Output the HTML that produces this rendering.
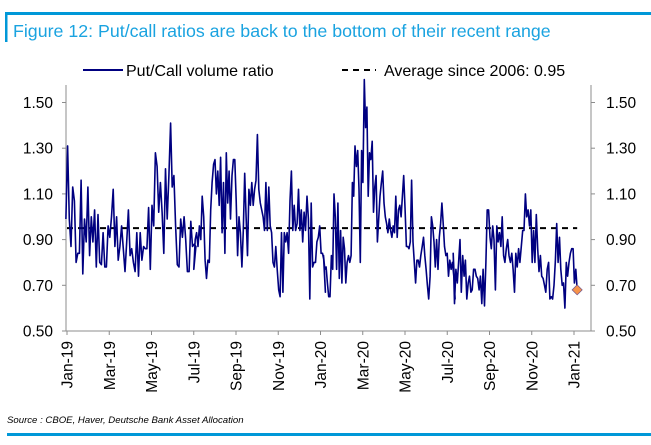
<!DOCTYPE html>
<html><head><meta charset="utf-8"><style>
html,body{margin:0;padding:0;background:#fff;width:651px;height:445px;overflow:hidden;font-family:"Liberation Sans",sans-serif}
</style></head><body>
<svg id="chart" width="651" height="445" xmlns="http://www.w3.org/2000/svg" font-family="Liberation Sans, sans-serif">
<rect x="5" y="12" width="646" height="3" fill="#0098d8"/>
<rect x="5" y="12" width="2.5" height="30" fill="#0098d8"/>
<text x="13" y="37" font-size="17.8" fill="#1aa3e0">Figure 12: Put/call ratios are back to the bottom of their recent range</text>
<g>
<line x1="83" y1="70" x2="123" y2="70" stroke="#000080" stroke-width="2"/>
<text x="126" y="76" font-size="16" fill="#000">Put/Call volume ratio</text>
<line x1="342" y1="70" x2="376" y2="70" stroke="#000" stroke-width="2" stroke-dasharray="6,5"/>
<text x="384" y="76" font-size="16" fill="#000">Average since 2006: 0.95</text>
</g>
<g id="axes"></g>
<g id="marks"></g>
<text x="7" y="423" font-size="9.6" font-style="italic" fill="#000">Source : CBOE, Haver, Deutsche Bank Asset Allocation</text>
<rect x="7" y="433" width="644" height="3" fill="#0098d8"/>
</svg>
<script>
const yTicks = [0.50, 0.70, 0.90, 1.10, 1.30, 1.50];
const xTickLabels = ["Jan-19","Mar-19","May-19","Jul-19","Sep-19","Nov-19","Jan-20","Mar-20","May-20","Jul-20","Sep-20","Nov-20","Jan-21"];
const xTickMonths = [0,2,4,6,8,10,12,14,16,18,20,22,24];
const averageValue = 0.95;
const lastValue = 0.68;
const lastMonth = 24.15;
const segStartMonth = [-0.05, 6.0, 12.14, 18.28];
const segEndMonth = [6.1, 12.23, 18.37, 24.15];
const seg1 = [0.99,1.31,0.99,0.87,1.13,1.07,0.80,0.84,0.84,1.16,0.75,0.99,0.89,1.13,0.83,1.00,0.89,1.03,0.78,1.01,0.80,0.79,0.93,0.78,0.78,0.96,0.91,1.00,1.12,0.87,1.00,0.81,0.87,0.96,0.86,0.76,0.89,1.03,0.83,0.86,0.80,0.76,0.93,0.74,0.93,0.81,0.87,0.86,0.86,1.04,0.77,1.05,0.96,1.28,1.22,1.02,1.15,1.02,0.84,1.21,0.99,1.18,1.41,1.13,1.18,0.96,0.79,0.78,0.99,0.91,1.00,0.90,0.76,0.76,0.98,0.87,0.88,0.87];
const seg2 = [0.77,0.90,0.93,0.87,0.96,0.90,1.09,1.00,0.81,0.73,0.81,0.80,1.03,1.15,1.23,1.25,1.10,1.20,1.05,1.26,0.93,1.15,0.84,1.28,1.06,1.20,0.99,1.18,1.25,1.25,1.07,0.83,1.00,0.93,0.78,0.94,1.19,1.00,0.83,1.12,1.05,1.15,1.05,1.12,1.16,1.36,1.12,1.06,1.03,1.00,0.94,1.15,0.94,1.13,0.96,0.93,0.80,0.78,0.87,0.77,0.68,0.65,0.93,0.67,0.93,0.89,0.93,0.84,1.07,1.20,0.94,1.05,0.94,0.97,1.12,0.94,1.03,0.89,1.02,0.94,1.09,0.99,0.64,1.06,0.78,0.80,0.80,0.89,0.91,0.96,0.84,0.84,0.81,0.67];
const seg3 = [0.83,0.77,0.78,0.71,0.65,0.65,0.83,0.77,1.10,1.00,0.77,1.06,0.73,0.94,0.71,0.91,0.86,0.71,0.80,0.83,0.80,0.83,1.15,1.09,1.31,1.22,1.29,1.12,0.80,1.29,1.15,1.60,1.39,1.48,1.09,1.28,1.25,1.33,1.02,1.13,1.18,0.89,0.99,1.09,1.15,1.20,1.06,1.00,0.97,0.93,0.99,0.94,0.91,0.96,0.93,1.09,0.91,1.03,1.05,1.00,1.09,1.18,1.03,0.87,0.87,0.86,0.89,1.16,0.89,0.80,0.71,0.81,0.81,0.78,0.83,0.87,0.91,0.83,0.77,0.70,0.64,0.74,1.00,0.96,0.89,0.78,0.90,0.77,0.91,0.97,1.06,0.97,0.87,0.83,0.84,0.74,0.81,0.77,0.80,0.74,0.64];
const seg4 = [0.84,0.62,0.77,0.71,0.80,0.90,0.67,0.83,0.74,0.81,0.64,0.71,0.74,0.67,0.68,0.77,0.77,0.74,0.73,0.68,0.74,0.62,0.77,0.61,0.80,1.03,1.03,0.91,0.86,0.96,0.90,0.68,0.96,0.89,0.93,0.87,1.00,0.83,0.80,0.86,0.90,0.83,0.80,0.84,0.77,0.67,0.84,0.78,0.86,0.80,0.87,0.94,0.94,1.10,1.00,1.03,0.96,1.03,0.80,0.94,0.80,1.01,0.86,0.76,0.83,0.74,0.73,0.70,0.67,0.77,0.80,0.64,0.65,0.64,0.70,0.81,0.97,0.80,0.91,0.77,0.70,0.71,0.60,0.80,0.74,0.80,0.84,0.86,0.86,0.71,0.77,0.68];
const segments = [seg1, seg2, seg3, seg4];

const NS = "http://www.w3.org/2000/svg";
const L = 66, R = 591, TOP = 102.5, BOT = 331;
const X0 = 67, X24 = 574;
function x(m){ return X0 + (X24 - X0) * m / 24; }
function y(v){ return BOT - (v - 0.5) / 1.0 * (BOT - TOP); }
function mk(tag, attrs, parent){ const e = document.createElementNS(NS, tag); for (const k in attrs) e.setAttribute(k, attrs[k]); parent.appendChild(e); return e; }
const axes = document.getElementById('axes'), marks = document.getElementById('marks');

let e = mk('line', {x1:L, y1:85, x2:L, y2:BOT, stroke:'#8c8c8c', 'stroke-width':1}, axes);


e = mk('line', {x1:R, y1:85, x2:R, y2:BOT, stroke:'#8c8c8c', 'stroke-width':1}, axes);


e = mk('line', {x1:L, y1:BOT, x2:R, y2:BOT, stroke:'#8c8c8c', 'stroke-width':1}, axes);



yTicks.forEach(v => {
  const yy = y(v);
  let t = mk('line', {x1:L-4, y1:yy, x2:L, y2:yy, stroke:'#8c8c8c'}, axes);
  
  
  t = mk('line', {x1:R, y1:yy, x2:R+4, y2:yy, stroke:'#8c8c8c'}, axes);
  
  
  let tx = mk('text', {x:53, y:yy+5.5, 'font-size':15.5, 'text-anchor':'end', fill:'#000'}, axes);
  tx.textContent = v.toFixed(2);
  
  
  tx = mk('text', {x:606, y:yy+5.5, 'font-size':15.5, fill:'#000'}, axes);
  tx.textContent = v.toFixed(2);
  
  
});

xTickMonths.forEach((m, i) => {
  const xx = x(m);
  let t = mk('line', {x1:xx, y1:BOT, x2:xx, y2:BOT+4, stroke:'#8c8c8c'}, axes);
  
  
  let tx = mk('text', {x:0, y:0, 'font-size':15.5, 'text-anchor':'end', fill:'#000', transform:`translate(${xx+5.5},${BOT+10}) rotate(-90)`}, axes);
  tx.textContent = xTickLabels[i];
  
  
});

e = mk('line', {x1:x(0), y1:y(averageValue), x2:x(lastMonth), y2:y(averageValue), stroke:'#000', 'stroke-width':2, 'stroke-dasharray':'6,5'}, marks);



let pts = [];
segments.forEach((s, si) => {
  const a = segStartMonth[si], b = segEndMonth[si];
  s.forEach((v, i) => { pts.push(x(a + (b - a) * i / (s.length - 1)).toFixed(1) + ',' + y(v).toFixed(1)); });
});
e = mk('polyline', {points:pts.join(' '), fill:'none', stroke:'#000080', 'stroke-width':1.6, 'stroke-linejoin':'round'}, marks);



const dx = x(lastMonth), dy = y(lastValue);
e = mk('polygon', {points:`${dx},${dy-5} ${dx+5},${dy} ${dx},${dy+5} ${dx-5},${dy}`, fill:'#f7934a', stroke:'#7a5a8a', 'stroke-width':0.8}, marks);


</script>
</body></html>
